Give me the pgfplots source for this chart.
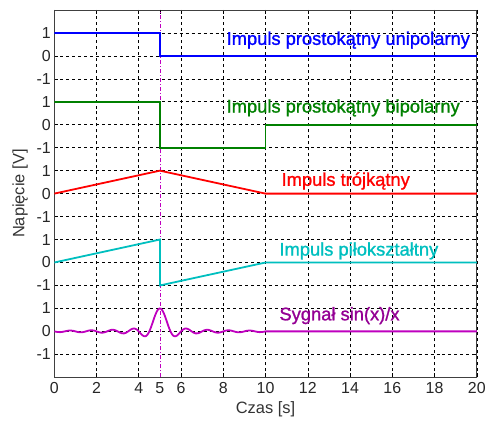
\documentclass[border=0pt]{standalone}
\usepackage{pgfplots}
\usepackage{pgfplotstable}
\pgfplotsset{compat=1.18}
\usepackage{fontspec}
\setmainfont{Liberation Sans}
\newfontfamily\heavy[FakeBold=1.2]{Liberation Sans}

\definecolor{mgreen}{rgb}{0,0.5,0}
\definecolor{mcyan}{rgb}{0,0.75,0.75}
\definecolor{mmag}{rgb}{0.75,0,0.75}
\definecolor{mpurp}{rgb}{0.58,0,0.58}

\tikzset{
  series/.style={line width=1.8bp},
  txt/.style={anchor=base west, inner sep=0pt, font=\heavy\fontsize{18.4bp}{20bp}\selectfont},
}

% sin(x)/x impulse centred at t = 5
\pgfplotstableread{
t     v
0.0   0
0.1  -0.0191
0.2  -0.0315
0.3  -0.0322
0.4  -0.0203
0.5   0
0.6   0.0213
0.7   0.0352
0.8   0.0360
0.9   0.0228
1.0   0
1.1  -0.0240
1.2  -0.0398
1.3  -0.0409
1.4  -0.0260
1.5   0
1.6   0.0275
1.7   0.0459
1.8   0.0473
1.9   0.0302
2.0   0
2.1  -0.0323
2.2  -0.0541
2.3  -0.0561
2.4  -0.0360
2.5   0
2.6   0.0390
2.7   0.0658
2.8   0.0688
2.9   0.0445
3.0   0
3.1  -0.0492
3.2  -0.0841
3.3  -0.0890
3.4  -0.0585
3.5   0
3.6   0.0668
3.7   0.1164
3.8   0.1261
3.9   0.0850
4.0   0
4.1  -0.1039
4.2  -0.1892
4.25 -0.2122
4.3  -0.2162
4.35 -0.1981
4.4  -0.1559
4.45 -0.0894
4.5   0
4.55  0.1093
4.6   0.2339
4.65  0.3679
4.7   0.5046
4.75  0.6366
4.8   0.7568
4.85  0.8584
4.9   0.9355
4.95  0.9836
5.0   1
5.05  0.9836
5.1   0.9355
5.15  0.8584
5.2   0.7568
5.25  0.6366
5.3   0.5046
5.35  0.3679
5.4   0.2339
5.45  0.1093
5.5   0
5.55 -0.0894
5.6  -0.1559
5.65 -0.1981
5.7  -0.2162
5.75 -0.2122
5.8  -0.1892
5.9  -0.1039
6.0   0
6.1   0.0850
6.2   0.1261
6.3   0.1164
6.4   0.0668
6.5   0
6.6  -0.0585
6.7  -0.0890
6.8  -0.0841
6.9  -0.0492
7.0   0
7.1   0.0445
7.2   0.0688
7.3   0.0658
7.4   0.0390
7.5   0
7.6  -0.0360
7.7  -0.0561
7.8  -0.0541
7.9  -0.0323
8.0   0
8.1   0.0302
8.2   0.0473
8.3   0.0459
8.4   0.0275
8.5   0
8.6  -0.0260
8.7  -0.0409
8.8  -0.0398
8.9  -0.0240
9.0   0
9.1   0.0228
9.2   0.0360
9.3   0.0352
9.4   0.0213
9.5   0
9.6  -0.0203
9.7  -0.0322
9.8  -0.0315
9.9  -0.0191
10.0  0
20.0  0
}\sinc

\begin{document}
\begin{tikzpicture}
\begin{axis}[
  scale only axis,
  width=424.5bp, height=369bp,
  xmin=0, xmax=20, ymin=0, ymax=16,
  xtick={0,2,4,6,8,10,12,14,16,18,20},
  xticklabels={0,2,4,6,8,10,12,14,16,18,20},
  extra x ticks={5}, extra x tick labels={5},
  extra x tick style={grid=none},
  ytick={1,...,15},
  yticklabels={-1,0,1,-1,0,1,-1,0,1,-1,0,1,-1,0,1},
  grid=major,
  major grid style={black, line width=0.6bp, dash pattern=on 3bp off 3bp},
  axis line style={black!75, line width=0.8bp},
  tick style={black, line width=0.6bp},
  major tick length=4bp,
  tick align=inside,
  ticklabel style={font=\fontsize{16bp}{18bp}\selectfont, text=black!85},
  xticklabel style={yshift=-1.5bp},
  xlabel={Czas [s]}, ylabel={Napięcie [V]},
  every axis x label/.style={at={(axis description cs:0.5,-0.087)}, anchor=center,
    font=\fontsize{16.5bp}{18bp}\selectfont, text=black!80},
  every axis y label/.style={at={(axis description cs:-0.081,0.5)}, anchor=center, rotate=90,
    font=\fontsize{16.5bp}{18bp}\selectfont, text=black!80},
]
% marker of the impulse centre
\addplot[mmag, line width=0.7bp, dash pattern=on 4bp off 2bp on 1bp off 2bp] coordinates {(5,0) (5,16)};

% unipolar rectangle, offset 14
\addplot[series, blue] table[y expr=\thisrow{v}+14] {
t  v
0  1
5  1
5  0
20 0
};
% bipolar rectangle, offset 11
\addplot[series, mgreen] table[y expr=\thisrow{v}+11] {
t  v
0  1
5  1
5  -1
10 -1
10 0
20 0
};
% triangle, offset 8
\addplot[series, red] table[y expr=\thisrow{v}+8] {
t  v
0  0
5  1
10 0
20 0
};
% sawtooth, offset 5
\addplot[series, mcyan] table[y expr=\thisrow{v}+5] {
t  v
0  0
5  1
5  -1
10 0
20 0
};
% sin(x)/x, offset 2
\addplot[series, mmag] table[x=t, y expr=\thisrow{v}+2] {\sinc};

\node[txt, text=blue]   at (axis cs:8.15,14.48) {Impuls prostokątny unipolarny};
\node[txt, text=mgreen] at (axis cs:8.15,11.53) {Impuls prostokątny bipolarny};
\node[txt, text=red]    at (axis cs:10.75,8.34) {Impuls trójkątny};
\node[txt, text=mcyan]  at (axis cs:10.65,5.30) {Impuls piłokształtny};
\node[txt, text=mpurp]  at (axis cs:10.65,2.48) {Sygnał sin(x)/x};
\end{axis}
\path (current axis.south west) ++(-54.5bp,-42bp) rectangle ++(489bp,421bp);
\end{tikzpicture}
\end{document}
